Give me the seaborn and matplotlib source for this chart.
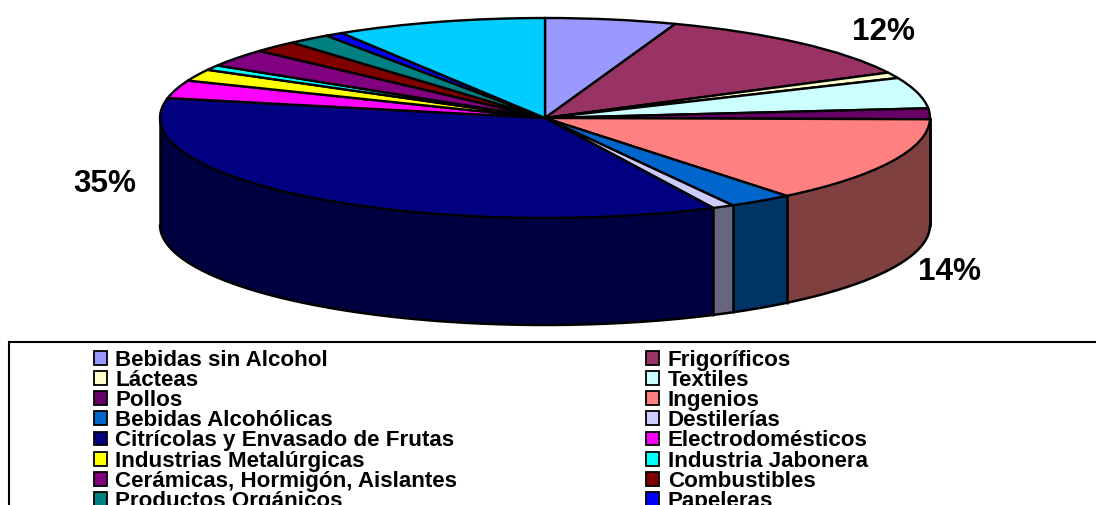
import numpy as np
import matplotlib
matplotlib.use("Agg")
import matplotlib.pyplot as plt
from matplotlib.patches import Patch, Rectangle
import seaborn as sns

# Share of each industry, in percent, clockwise from twelve o'clock
industries = ["Bebidas sin Alcohol", "Frigoríficos", "Lácteas", "Textiles",
              "Pollos", "Ingenios", "Bebidas Alcohólicas", "Destilerías",
              "Citrícolas y Envasado de Frutas", "Electrodomésticos",
              "Industrias Metalúrgicas", "Industria Jabonera",
              "Cerámicas, Hormigón, Aislantes", "Combustibles",
              "Productos Orgánicos", "Papeleras"]
shares = [5.5, 12, 0.95, 5.0, 1.75, 14, 2.7, 0.9, 35.4,
          2.9, 1.9, 0.8, 2.9, 1.9, 1.8, 0.75, 8.85]
colours = ["#9999FF", "#993366", "#FFFFCC", "#CCFFFF", "#660066", "#FF8080",
           "#0066CC", "#CCCCFF", "#000080", "#FF00FF", "#FFFF00", "#00FFFF",
           "#800080", "#800000", "#008080", "#0000FF", "#00CCFF"]
callouts = ["12%", "14%", "35%"]

sns.set_theme(style="white")
plt.rcParams["font.family"] = ["Liberation Sans", "DejaVu Sans"]

W, H = 1096, 505
CX, CY, RX, RY, DEPTH = 545, 118, 385, 100, 107
fig = plt.figure(figsize=(W / 100, H / 100), dpi=100, facecolor="white")
ax = fig.add_axes([0, 0, 1, 1])


def to_data(px, py):
    return (px - CX) / RX, (CY - py) / RY


palette = sns.color_palette(colours)
side_palette = [tuple(c / 2 for c in rgb) for rgb in palette]
depth = DEPTH / RY

# Side wall: darker copies of the pie stacked from the base upward
for offset in np.linspace(depth, 0.01, DEPTH):
    ax.pie(shares, colors=side_palette, startangle=90, counterclock=False,
           center=(0, -offset), radius=1,
           wedgeprops=dict(linewidth=0, antialiased=False))

# Outline of the wall: lower rim, outer verticals and slice seams in front
theta = np.radians(np.linspace(90, 270, 400))
ax.plot(np.sin(theta), np.cos(theta) - depth, color="black", lw=1.8)
ends = np.cumsum(shares) / np.sum(shares) * 2 * np.pi
seams = list(ends[(ends > np.pi / 2) & (ends < 3 * np.pi / 2)])
for a in seams + [np.pi / 2, 3 * np.pi / 2]:
    x, y = np.sin(a), np.cos(a)
    ax.plot([x, x], [y, y - depth], color="black", lw=1.8)

# Top face
ax.pie(shares, colors=palette, startangle=90, counterclock=False,
       center=(0, 0), radius=1,
       wedgeprops=dict(edgecolor="black", linewidth=1.7))

ax.set_aspect("auto")
ax.set_xlim(*(np.array([0 - CX, W - CX]) / RX))
ax.set_ylim((CY - H) / RY, CY / RY)
ax.axis("off")

# Percentage callouts
for text, (px, py) in zip(callouts, [(883, 28), (950, 268), (105, 180)]):
    x, y = to_data(px, py)
    ax.text(x, y, text, fontsize=22.7, fontweight="bold", color="black",
            ha="center", va="center_baseline")

# Legend frame runs past the right and bottom edges of the figure
fig.add_artist(Rectangle((9 / W, -0.2), 1.2, (H - 342) / H + 0.2,
                         transform=fig.transFigure, facecolor="none",
                         edgecolor="black", linewidth=1.5))

handles = [Patch(facecolor=c, edgecolor="black", linewidth=1.3)
           for c in colours[:len(industries)]]
order = list(range(0, len(industries), 2)) + list(range(1, len(industries), 2))
fig.legend([handles[i] for i in order], [industries[i] for i in order],
           loc="upper left", bbox_to_anchor=(94 / W, (H - 350) / H),
           bbox_transform=fig.transFigure, ncols=2, frameon=False,
           borderpad=0, borderaxespad=0, labelspacing=-0.04,
           handlelength=0.58, handleheight=0.58, handletextpad=0.38,
           columnspacing=8.45, labelcolor="black",
           prop=dict(family="Liberation Sans", weight="bold", size=16.1))

fig.savefig("out.png", dpi=100, facecolor="white")
